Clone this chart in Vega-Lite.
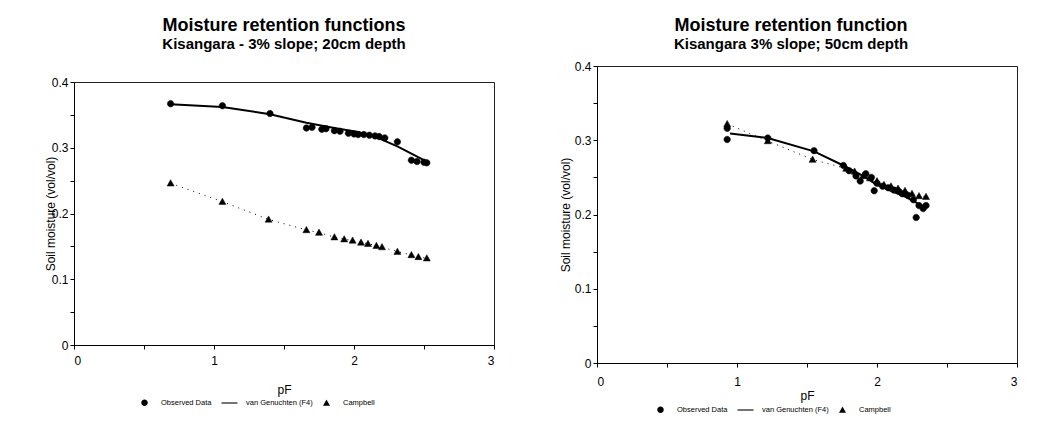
{
  "$schema": "https://vega.github.io/schema/vega-lite/v6.json",
  "background": "white",
  "padding": {"left": 43, "top": 9, "right": 10, "bottom": 4},
  "spacing": 63,
  "bounds": "full",
  "config": {
    "font": "Liberation Sans",
    "view": {"stroke": "#222", "strokeWidth": 1},
    "axis": {
      "grid": false,
      "domainColor": "black",
      "tickColor": "black",
      "tickSize": 4,
      "labelColor": "black",
      "labelFontSize": 12,
      "titleColor": "black",
      "titleFontSize": 12,
      "titleFontWeight": "normal"
    },
    "title": {"color": "black", "subtitleColor": "black", "fontSize": 18, "fontWeight": "bold", "subtitleFontSize": 15, "subtitleFontWeight": "bold", "anchor": "middle", "subtitlePadding": 2},
    "legend": {
      "orient": "none",
      "direction": "horizontal",
      "title": null,
      "labelFontSize": 7.5,
      "labelColor": "black",
      "labelOffset": 11,
      "symbolSize": 100,
      "symbolStrokeColor": "black",
      "symbolFillColor": "black",
      "symbolStrokeWidth": 0.5,
      "columnPadding": 8
    }
  },
  "hconcat": [
    {
      "spacing": 0,
      "bounds": "full",
      "vconcat": [
        {
          "width": 420,
          "height": 1,
          "view": {"stroke": null},
          "data": {"values": [{}]},
          "mark": {"type": "point", "opacity": 0},
          "encoding": {}
        },
        {
          "width": 420,
          "height": 263,
          "title": {"text": "Moisture retention functions", "subtitle": "Kisangara - 3% slope; 20cm depth", "offset": 24},
          "data": {
            "values": [
              {"series": "Observed Data", "pF": 0.69, "theta": 0.367},
              {"series": "Observed Data", "pF": 1.06, "theta": 0.364},
              {"series": "Observed Data", "pF": 1.40, "theta": 0.352},
              {"series": "Observed Data", "pF": 1.66, "theta": 0.330},
              {"series": "Observed Data", "pF": 1.70, "theta": 0.331},
              {"series": "Observed Data", "pF": 1.77, "theta": 0.328},
              {"series": "Observed Data", "pF": 1.80, "theta": 0.329},
              {"series": "Observed Data", "pF": 1.86, "theta": 0.326},
              {"series": "Observed Data", "pF": 1.90, "theta": 0.325},
              {"series": "Observed Data", "pF": 1.96, "theta": 0.322},
              {"series": "Observed Data", "pF": 2.00, "theta": 0.321},
              {"series": "Observed Data", "pF": 2.03, "theta": 0.320},
              {"series": "Observed Data", "pF": 2.07, "theta": 0.320},
              {"series": "Observed Data", "pF": 2.11, "theta": 0.319},
              {"series": "Observed Data", "pF": 2.15, "theta": 0.318},
              {"series": "Observed Data", "pF": 2.18, "theta": 0.317},
              {"series": "Observed Data", "pF": 2.22, "theta": 0.315},
              {"series": "Observed Data", "pF": 2.31, "theta": 0.309},
              {"series": "Observed Data", "pF": 2.41, "theta": 0.281},
              {"series": "Observed Data", "pF": 2.45, "theta": 0.279},
              {"series": "Observed Data", "pF": 2.50, "theta": 0.278},
              {"series": "Observed Data", "pF": 2.52, "theta": 0.277},
              {"series": "van Genuchten (F4)", "pF": 0.69, "theta": 0.366},
              {"series": "van Genuchten (F4)", "pF": 1.06, "theta": 0.362},
              {"series": "van Genuchten (F4)", "pF": 1.40, "theta": 0.351},
              {"series": "van Genuchten (F4)", "pF": 1.66, "theta": 0.338},
              {"series": "van Genuchten (F4)", "pF": 1.86, "theta": 0.330},
              {"series": "van Genuchten (F4)", "pF": 2.03, "theta": 0.324},
              {"series": "van Genuchten (F4)", "pF": 2.15, "theta": 0.317},
              {"series": "van Genuchten (F4)", "pF": 2.31, "theta": 0.302},
              {"series": "van Genuchten (F4)", "pF": 2.41, "theta": 0.291},
              {"series": "van Genuchten (F4)", "pF": 2.52, "theta": 0.279},
              {"series": "Campbell", "pF": 0.69, "theta": 0.246},
              {"series": "Campbell", "pF": 1.06, "theta": 0.218},
              {"series": "Campbell", "pF": 1.39, "theta": 0.191},
              {"series": "Campbell", "pF": 1.66, "theta": 0.175},
              {"series": "Campbell", "pF": 1.75, "theta": 0.171},
              {"series": "Campbell", "pF": 1.86, "theta": 0.164},
              {"series": "Campbell", "pF": 1.93, "theta": 0.161},
              {"series": "Campbell", "pF": 1.99, "theta": 0.159},
              {"series": "Campbell", "pF": 2.05, "theta": 0.156},
              {"series": "Campbell", "pF": 2.10, "theta": 0.154},
              {"series": "Campbell", "pF": 2.16, "theta": 0.151},
              {"series": "Campbell", "pF": 2.20, "theta": 0.149},
              {"series": "Campbell", "pF": 2.31, "theta": 0.142},
              {"series": "Campbell", "pF": 2.41, "theta": 0.137},
              {"series": "Campbell", "pF": 2.46, "theta": 0.134},
              {"series": "Campbell", "pF": 2.52, "theta": 0.132}
            ]
          },
          "encoding": {
            "x": {
              "field": "pF", "type": "quantitative",
              "scale": {"domain": [0, 3], "nice": false, "zero": false},
              "axis": {"title": "pF", "values": [0, 0.5, 1, 1.5, 2, 2.5, 3], "labelExpr": "datum.value % 1 === 0 ? format(datum.value, 'd') : ''", "labelPadding": 6, "titlePadding": 18}
            },
            "y": {
              "field": "theta", "type": "quantitative",
              "scale": {"domain": [0, 0.4], "nice": false},
              "axis": {"title": "Soil moisture (vol/vol)", "values": [0, 0.05, 0.1, 0.15, 0.2, 0.25, 0.3, 0.35, 0.4], "labelExpr": "round(datum.value * 100) % 10 === 0 ? (datum.value === 0 ? '0' : format(datum.value, '.1f')) : ''", "titlePadding": -6}
            }
          },
          "layer": [
            {
              "transform": [{"filter": "datum.series === 'Campbell'"}],
              "mark": {"type": "line", "color": "black", "strokeWidth": 1, "strokeDash": [1, 5]}
            },
            {
              "transform": [{"filter": "datum.series === 'van Genuchten (F4)'"}],
              "mark": {"type": "line", "color": "black", "strokeWidth": 2}
            },
            {
              "transform": [{"filter": "datum.series !== 'van Genuchten (F4)'"}],
              "mark": {"type": "point", "filled": true, "fill": "black", "stroke": "black", "strokeWidth": 0.5, "size": 100, "opacity": 1},
              "encoding": {
                "shape": {
                  "field": "series", "type": "nominal",
                  "scale": {
                    "domain": ["Observed Data", "van Genuchten (F4)", "Campbell"],
                    "range": ["M-0.65,0A0.65,0.65,0,1,1,0.65,0A0.65,0.65,0,1,1,-0.65,0Z", "M-1.6,-0.11H1.6V0.11H-1.6Z", "M0,-0.7L0.7,0.55L-0.7,0.55Z"]
                  },
                  "legend": {"orient": "none", "legendX": 65, "legendY": 385}
                }
              }
            }
          ]
        }
      ]
    },
    {
      "spacing": 0,
      "bounds": "full",
      "vconcat": [
        {
          "width": 420,
          "height": 1,
          "view": {"stroke": null},
          "data": {"values": [{}]},
          "mark": {"type": "point", "opacity": 0},
          "encoding": {}
        },
        {
          "width": 420,
          "height": 297,
          "title": {"text": "Moisture retention function", "subtitle": "Kisangara 3% slope; 50cm depth", "offset": 8, "dx": -16},
          "data": {
            "values": [
              {"series": "Observed Data", "pF": 0.93, "theta": 0.316},
              {"series": "Observed Data", "pF": 0.93, "theta": 0.301},
              {"series": "Observed Data", "pF": 1.22, "theta": 0.303},
              {"series": "Observed Data", "pF": 1.55, "theta": 0.286},
              {"series": "Observed Data", "pF": 1.76, "theta": 0.266},
              {"series": "Observed Data", "pF": 1.80, "theta": 0.259},
              {"series": "Observed Data", "pF": 1.85, "theta": 0.252},
              {"series": "Observed Data", "pF": 1.88, "theta": 0.245},
              {"series": "Observed Data", "pF": 1.92, "theta": 0.255},
              {"series": "Observed Data", "pF": 1.96, "theta": 0.250},
              {"series": "Observed Data", "pF": 1.98, "theta": 0.232},
              {"series": "Observed Data", "pF": 2.00, "theta": 0.242},
              {"series": "Observed Data", "pF": 2.04, "theta": 0.238},
              {"series": "Observed Data", "pF": 2.08, "theta": 0.236},
              {"series": "Observed Data", "pF": 2.12, "theta": 0.233},
              {"series": "Observed Data", "pF": 2.15, "theta": 0.232},
              {"series": "Observed Data", "pF": 2.18, "theta": 0.228},
              {"series": "Observed Data", "pF": 2.22, "theta": 0.226},
              {"series": "Observed Data", "pF": 2.26, "theta": 0.220},
              {"series": "Observed Data", "pF": 2.28, "theta": 0.196},
              {"series": "Observed Data", "pF": 2.30, "theta": 0.212},
              {"series": "Observed Data", "pF": 2.33, "theta": 0.208},
              {"series": "Observed Data", "pF": 2.35, "theta": 0.212},
              {"series": "van Genuchten (F4)", "pF": 0.95, "theta": 0.309},
              {"series": "van Genuchten (F4)", "pF": 1.22, "theta": 0.303},
              {"series": "van Genuchten (F4)", "pF": 1.55, "theta": 0.285},
              {"series": "van Genuchten (F4)", "pF": 1.76, "theta": 0.266},
              {"series": "van Genuchten (F4)", "pF": 1.90, "theta": 0.252},
              {"series": "van Genuchten (F4)", "pF": 2.00, "theta": 0.240},
              {"series": "van Genuchten (F4)", "pF": 2.10, "theta": 0.232},
              {"series": "van Genuchten (F4)", "pF": 2.20, "theta": 0.224},
              {"series": "van Genuchten (F4)", "pF": 2.30, "theta": 0.214},
              {"series": "van Genuchten (F4)", "pF": 2.35, "theta": 0.210},
              {"series": "Campbell", "pF": 0.93, "theta": 0.322},
              {"series": "Campbell", "pF": 1.22, "theta": 0.299},
              {"series": "Campbell", "pF": 1.54, "theta": 0.274},
              {"series": "Campbell", "pF": 1.78, "theta": 0.262},
              {"series": "Campbell", "pF": 1.84, "theta": 0.258},
              {"series": "Campbell", "pF": 1.90, "theta": 0.252},
              {"series": "Campbell", "pF": 1.95, "theta": 0.249},
              {"series": "Campbell", "pF": 2.00, "theta": 0.245},
              {"series": "Campbell", "pF": 2.05, "theta": 0.240},
              {"series": "Campbell", "pF": 2.10, "theta": 0.238},
              {"series": "Campbell", "pF": 2.15, "theta": 0.235},
              {"series": "Campbell", "pF": 2.20, "theta": 0.232},
              {"series": "Campbell", "pF": 2.25, "theta": 0.228},
              {"series": "Campbell", "pF": 2.30, "theta": 0.225},
              {"series": "Campbell", "pF": 2.35, "theta": 0.224}
            ]
          },
          "encoding": {
            "x": {
              "field": "pF", "type": "quantitative",
              "scale": {"domain": [0, 3], "nice": false, "zero": false},
              "axis": {"title": "pF", "values": [0, 0.5, 1, 1.5, 2, 2.5, 3], "labelExpr": "datum.value % 1 === 0 ? format(datum.value, 'd') : ''", "labelPadding": 9, "titlePadding": 3}
            },
            "y": {
              "field": "theta", "type": "quantitative",
              "scale": {"domain": [0, 0.4], "nice": false},
              "axis": {"title": "Soil moisture (vol/vol)", "values": [0, 0.05, 0.1, 0.15, 0.2, 0.25, 0.3, 0.35, 0.4], "labelExpr": "round(datum.value * 100) % 10 === 0 ? (datum.value === 0 ? '0' : format(datum.value, '.1f')) : ''", "titlePadding": 2}
            }
          },
          "layer": [
            {
              "transform": [{"filter": "datum.series === 'Campbell'"}],
              "mark": {"type": "line", "color": "black", "strokeWidth": 1, "strokeDash": [1, 5]}
            },
            {
              "transform": [{"filter": "datum.series === 'van Genuchten (F4)'"}],
              "mark": {"type": "line", "color": "black", "strokeWidth": 2}
            },
            {
              "transform": [{"filter": "datum.series !== 'van Genuchten (F4)'"}],
              "mark": {"type": "point", "filled": true, "fill": "black", "stroke": "black", "strokeWidth": 0.5, "size": 100, "opacity": 1},
              "encoding": {
                "shape": {
                  "field": "series", "type": "nominal",
                  "scale": {
                    "domain": ["Observed Data", "van Genuchten (F4)", "Campbell"],
                    "range": ["M-0.65,0A0.65,0.65,0,1,1,0.65,0A0.65,0.65,0,1,1,-0.65,0Z", "M-1.6,-0.11H1.6V0.11H-1.6Z", "M0,-0.7L0.7,0.55L-0.7,0.55Z"]
                  },
                  "legend": {"orient": "none", "legendX": 58, "legendY": 392}
                }
              }
            }
          ]
        }
      ]
    }
  ],
  "resolve": {"scale": {"shape": "independent"}, "legend": {"shape": "independent"}}
}
